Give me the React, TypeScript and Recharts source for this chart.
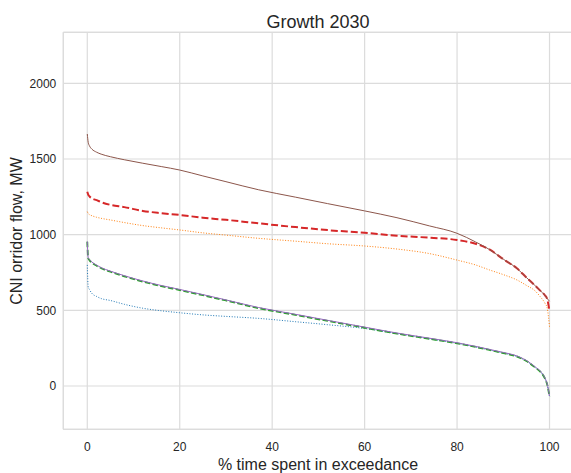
import React from 'react';
import { LineChart, Line, XAxis, YAxis, CartesianGrid, ReferenceLine } from 'recharts';

const pct = [0, 0.2, 0.5, 1, 2, 3, 5, 8, 12, 16, 20, 25, 30, 37, 45, 52, 60, 67, 74, 80, 84, 87, 90, 93, 95, 97, 98, 99, 99.5, 100];

const seriesBlue = [800, 656, 636, 612, 592, 578, 565, 540, 514, 497, 484, 470, 460, 447, 425, 405, 380, 346, 312, 282, 258, 238, 218, 194, 165, 120, 95, 50, 10, -70];
const seriesOrange = [1152, 1140, 1132, 1125, 1115, 1108, 1097, 1080, 1060, 1045, 1031, 1012, 997, 976, 957, 940, 925, 905, 875, 832, 800, 767, 736, 700, 665, 625, 590, 548, 515, 392];
const seriesGreen = [953, 844, 830, 815, 795, 778, 755, 725, 690, 660, 634, 600, 565, 515, 470, 430, 385, 346, 312, 282, 258, 238, 218, 194, 165, 120, 95, 50, 10, -70];
const seriesRed = [1284, 1265, 1252, 1240, 1228, 1215, 1197, 1182, 1157, 1142, 1130, 1112, 1098, 1075, 1050, 1030, 1012, 993, 980, 965, 940, 902, 838, 776, 717, 660, 630, 600, 575, 495];
const seriesPurple = [955, 848, 834, 819, 799, 782, 759, 729, 694, 664, 638, 604, 569, 519, 474, 434, 389, 350, 316, 286, 262, 242, 222, 198, 169, 124, 99, 54, 14, -66];
const seriesBrown = [1665, 1610, 1585, 1565, 1545, 1532, 1515, 1495, 1472, 1450, 1427, 1388, 1350, 1297, 1248, 1205, 1157, 1112, 1058, 1009, 952, 902, 838, 776, 717, 660, 630, 600, 578, 560];

const xTicks = [0, 20, 40, 60, 80, 100];
const yTicks = [0, 500, 1000, 1500, 2000];

const data = pct.map((p, i) => ({
  pct: p,
  blue: seriesBlue[i],
  orange: seriesOrange[i],
  green: seriesGreen[i],
  red: seriesRed[i],
  purple: seriesPurple[i],
  brown: seriesBrown[i],
}));

const X_MIN = -5.19;
const X_MAX = 105.19;
const Y_MIN = -286;
const Y_MAX = 2337;

const FONT = '"Liberation Sans", Arial, sans-serif';
const TEXT = '#262626';
const GRID = '#dcdcdc';

export default function App() {
  return (
    <div style={{ position: 'absolute', left: 0, top: 0 }}>
      <LineChart
        width={580}
        height={473}
        data={data}
        margin={{ top: 32.3, right: 6.5, bottom: 3.7, left: 8.3 }}
      >
        <CartesianGrid stroke={GRID} strokeWidth={1.2} />
        <XAxis
          dataKey="pct"
          type="number"
          domain={[X_MIN, X_MAX]}
          ticks={xTicks}
          allowDataOverflow
          height={40}
          tickLine={false}
          tickSize={11}
          tickMargin={2.5}
          axisLine={{ stroke: GRID, strokeWidth: 1.2 }}
          tick={{ fill: TEXT, fontSize: 12, fontFamily: FONT }}
        />
        <YAxis
          type="number"
          domain={[Y_MIN, Y_MAX]}
          ticks={yTicks}
          allowDataOverflow
          width={55}
          tickLine={false}
          tickSize={5}
          tickMargin={2}
          axisLine={{ stroke: GRID, strokeWidth: 1.2 }}
          tick={{ fill: TEXT, fontSize: 12, fontFamily: FONT }}
        />
        <ReferenceLine y={Y_MAX} stroke={GRID} strokeWidth={1.2} ifOverflow="visible" />
        <Line dataKey="blue" stroke="#1f77b4" strokeWidth={1} strokeDasharray="1 1.65" dot={false} activeDot={false} isAnimationActive={false} type="monotone" />
        <Line dataKey="orange" stroke="#ff7f0e" strokeWidth={1} strokeDasharray="1 1.65" dot={false} activeDot={false} isAnimationActive={false} type="monotone" />
        <Line dataKey="green" stroke="#2ca02c" strokeWidth={1.8} strokeDasharray="5.5 2.4" dot={false} activeDot={false} isAnimationActive={false} type="monotone" />
        <Line dataKey="red" stroke="#d62728" strokeWidth={2} strokeDasharray="7 3" dot={false} activeDot={false} isAnimationActive={false} type="monotone" />
        <Line dataKey="purple" stroke="#9467bd" strokeWidth={1} dot={false} activeDot={false} isAnimationActive={false} type="monotone" />
        <Line dataKey="brown" stroke="#8c564b" strokeWidth={1} dot={false} activeDot={false} isAnimationActive={false} type="monotone" />
        <text x={318} y={28} textAnchor="middle" fontSize={18} fontFamily={FONT} fill={TEXT}>Growth 2030</text>
        <text x={318} y={470} textAnchor="middle" fontSize={16} fontFamily={FONT} fill={TEXT}>% time spent in exceedance</text>
        <text x={22} y={231} transform="rotate(-90, 22, 231)" textAnchor="middle" fontSize={16} fontFamily={FONT} fill={TEXT}>CNI orridor flow, MW</text>
      </LineChart>
    </div>
  );
}
